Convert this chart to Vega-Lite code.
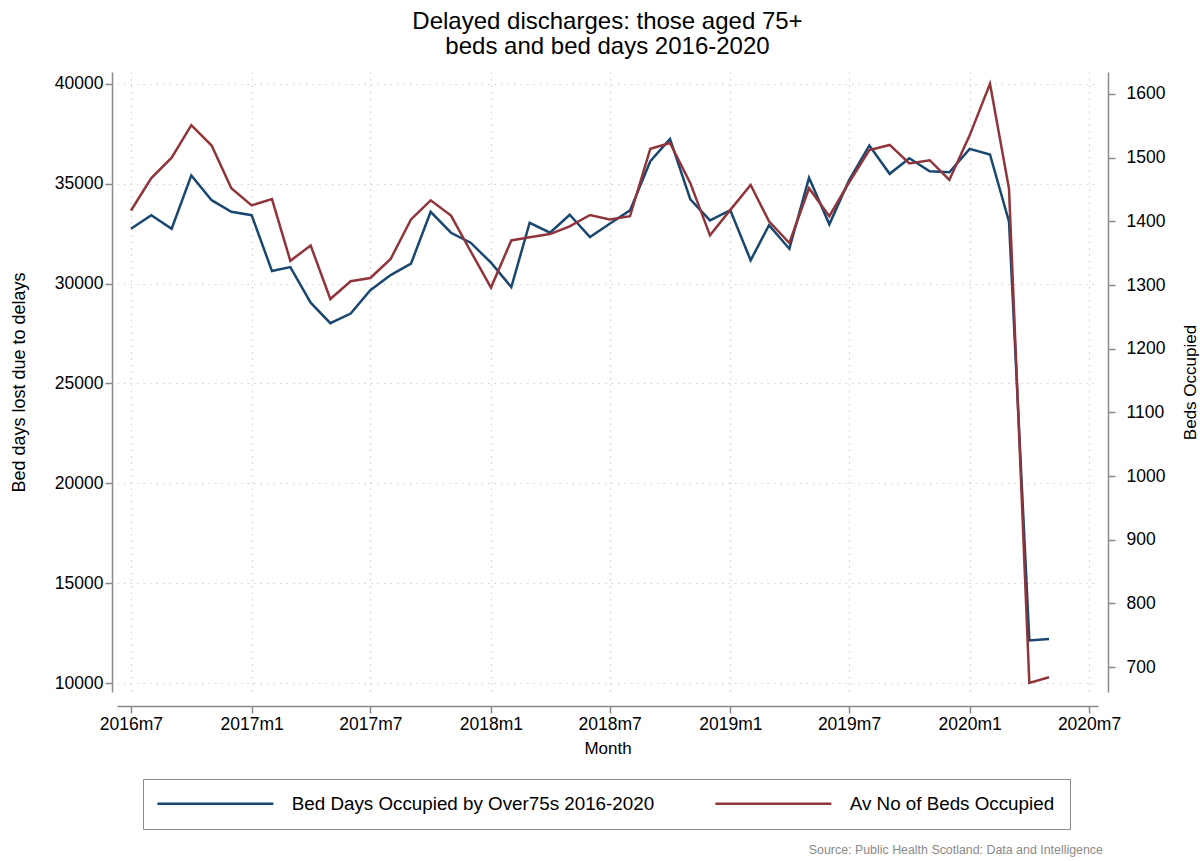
{
  "$schema": "https://vega.github.io/schema/vega-lite/v6.json",
  "background": "white",
  "padding": {"left": 10, "top": 10, "right": 2, "bottom": 2},
  "title": {"text": "Source: Public Health Scotland: Data and Intelligence", "orient": "bottom", "anchor": "end", "fontSize": 12.4, "color": "#8a8a8a", "fontWeight": "normal", "font": "Liberation Sans", "offset": 14, "dx": -96},
  "vconcat": [
    {
      "title": {"text": ["Delayed discharges: those aged 75+", "beds and bed days 2016-2020"], "fontSize": 24, "fontWeight": "normal", "color": "#000", "font": "Liberation Sans", "lineHeight": 25, "offset": 13, "anchor": "middle"},
      "width": 981,
      "height": 620,
      "data": {"values": [
        {"date": "2016-07-01", "bed_days": 32750, "beds": 1417},
        {"date": "2016-08-01", "bed_days": 33430, "beds": 1468},
        {"date": "2016-09-01", "bed_days": 32750, "beds": 1500},
        {"date": "2016-10-01", "bed_days": 35420, "beds": 1551},
        {"date": "2016-11-01", "bed_days": 34180, "beds": 1519},
        {"date": "2016-12-01", "bed_days": 33600, "beds": 1452},
        {"date": "2017-01-01", "bed_days": 33430, "beds": 1425},
        {"date": "2017-02-01", "bed_days": 30630, "beds": 1435},
        {"date": "2017-03-01", "bed_days": 30830, "beds": 1338},
        {"date": "2017-04-01", "bed_days": 29050, "beds": 1362},
        {"date": "2017-05-01", "bed_days": 28020, "beds": 1278},
        {"date": "2017-06-01", "bed_days": 28500, "beds": 1306},
        {"date": "2017-07-01", "bed_days": 29670, "beds": 1311},
        {"date": "2017-08-01", "bed_days": 30430, "beds": 1341},
        {"date": "2017-09-01", "bed_days": 31000, "beds": 1403},
        {"date": "2017-10-01", "bed_days": 33600, "beds": 1433},
        {"date": "2017-11-01", "bed_days": 32550, "beds": 1409},
        {"date": "2017-12-01", "bed_days": 32050, "beds": 1353},
        {"date": "2018-01-01", "bed_days": 31050, "beds": 1296},
        {"date": "2018-02-01", "bed_days": 29830, "beds": 1370},
        {"date": "2018-03-01", "bed_days": 33050, "beds": 1375},
        {"date": "2018-04-01", "bed_days": 32550, "beds": 1380},
        {"date": "2018-05-01", "bed_days": 33450, "beds": 1392},
        {"date": "2018-06-01", "bed_days": 32330, "beds": 1410},
        {"date": "2018-07-01", "bed_days": 33000, "beds": 1403},
        {"date": "2018-08-01", "bed_days": 33670, "beds": 1408},
        {"date": "2018-09-01", "bed_days": 36130, "beds": 1514},
        {"date": "2018-10-01", "bed_days": 37250, "beds": 1523},
        {"date": "2018-11-01", "bed_days": 34220, "beds": 1460},
        {"date": "2018-12-01", "bed_days": 33170, "beds": 1378},
        {"date": "2019-01-01", "bed_days": 33680, "beds": 1418},
        {"date": "2019-02-01", "bed_days": 31170, "beds": 1457},
        {"date": "2019-03-01", "bed_days": 32930, "beds": 1400},
        {"date": "2019-04-01", "bed_days": 31750, "beds": 1366},
        {"date": "2019-05-01", "bed_days": 35300, "beds": 1452},
        {"date": "2019-06-01", "bed_days": 32970, "beds": 1408},
        {"date": "2019-07-01", "bed_days": 35170, "beds": 1461},
        {"date": "2019-08-01", "bed_days": 36920, "beds": 1512},
        {"date": "2019-09-01", "bed_days": 35500, "beds": 1520},
        {"date": "2019-10-01", "bed_days": 36280, "beds": 1491},
        {"date": "2019-11-01", "bed_days": 35630, "beds": 1496},
        {"date": "2019-12-01", "bed_days": 35580, "beds": 1465},
        {"date": "2020-01-01", "bed_days": 36750, "beds": 1535},
        {"date": "2020-02-01", "bed_days": 36470, "beds": 1616},
        {"date": "2020-03-01", "bed_days": 33100, "beds": 1451},
        {"date": "2020-04-01", "bed_days": 12130, "beds": 675},
        {"date": "2020-05-01", "bed_days": 12200, "beds": 684}
      ]},
      "encoding": {
        "x": {
          "field": "date", "type": "temporal",
          "scale": {"type": "utc", "domain": [{"year": 2016, "month": 6, "date": 9, "hours": 16, "utc": true}, {"year": 2020, "month": 7, "date": 14, "hours": 17, "utc": true}], "nice": false},
          "axis": {
            "values": [
              {"year": 2016, "month": 7, "date": 1, "utc": true},
              {"year": 2017, "month": 1, "date": 1, "utc": true},
              {"year": 2017, "month": 7, "date": 1, "utc": true},
              {"year": 2018, "month": 1, "date": 1, "utc": true},
              {"year": 2018, "month": 7, "date": 1, "utc": true},
              {"year": 2019, "month": 1, "date": 1, "utc": true},
              {"year": 2019, "month": 7, "date": 1, "utc": true},
              {"year": 2020, "month": 1, "date": 1, "utc": true},
              {"year": 2020, "month": 7, "date": 1, "utc": true}
            ],
            "labelExpr": "utcyear(datum.value) + 'm' + (utcmonth(datum.value) + 1)",
            "title": "Month",
            "offset": 14,
            "grid": true,
            "labelPadding": 2,
            "titlePadding": 8
          }
        }
      },
      "layer": [
        {
          "mark": {"type": "line", "strokeWidth": 2.5, "clip": true},
          "encoding": {
            "y": {
              "field": "bed_days", "type": "quantitative",
              "scale": {"domain": [9550, 40600], "nice": false, "zero": false},
              "axis": {
                "orient": "left",
                "values": [10000, 15000, 20000, 25000, 30000, 35000, 40000],
                "title": "Bed days lost due to delays",
                "titleFontSize": 18,
                "offset": 5,
                "grid": true,
                "format": "d",
                "labelPadding": 2,
                "titlePadding": 26
              }
            },
            "color": {"datum": "Bed Days Occupied by Over75s 2016-2020", "type": "nominal",
              "scale": {"domain": ["Bed Days Occupied by Over75s 2016-2020", "Av No of Beds Occupied"], "range": ["#1a476f", "#90353b"]},
              "legend": {"title": null}
            }
          }
        },
        {
          "mark": {"type": "line", "strokeWidth": 2.5, "clip": true},
          "encoding": {
            "y": {
              "field": "beds", "type": "quantitative",
              "scale": {"domain": [660.8, 1634.55], "nice": false, "zero": false},
              "axis": {
                "orient": "right",
                "values": [700, 800, 900, 1000, 1100, 1200, 1300, 1400, 1500, 1600],
                "title": "Beds Occupied",
                "titleAngle": 270,
                "offset": 10,
                "grid": false,
                "format": "d",
                "labelPadding": 11,
                "titlePadding": 35
              }
            },
            "color": {"datum": "Av No of Beds Occupied", "type": "nominal"}
          }
        }
      ],
      "resolve": {"scale": {"y": "independent"}}
    }
  ],
  "config": {
    "font": "Liberation Sans",
    "view": {"stroke": null},
    "axis": {
      "labelFont": "Liberation Sans",
      "titleFont": "Liberation Sans",
      "labelFontSize": 17.5,
      "titleFontSize": 17,
      "titleFontWeight": "normal",
      "labelColor": "#000",
      "titleColor": "#000",
      "domainColor": "#8a8a8a",
      "domainWidth": 1.5,
      "tickColor": "#8a8a8a",
      "tickWidth": 1.5,
      "tickSize": 7,
      "gridColor": "#cfcfcf",
      "gridDash": [1.5, 5],
      "gridWidth": 1.2
    },
    "legend": {
      "orient": "none",
      "legendX": 26,
      "legendY": 707,
      "direction": "horizontal",
      "symbolType": "M-11.6,0H11.6",
      "symbolSize": 100,
      "symbolOffset": 48,
      "symbolStrokeWidth": 2.5,
      "labelFont": "Liberation Sans",
      "labelFontSize": 18.8,
      "labelColor": "#000",
      "labelOffset": 67,
      "labelLimit": 500,
      "columnPadding": 55,
      "padding": 15,
      "strokeColor": "#8a8a8a",
      "fillColor": "white"
    }
  }
}
